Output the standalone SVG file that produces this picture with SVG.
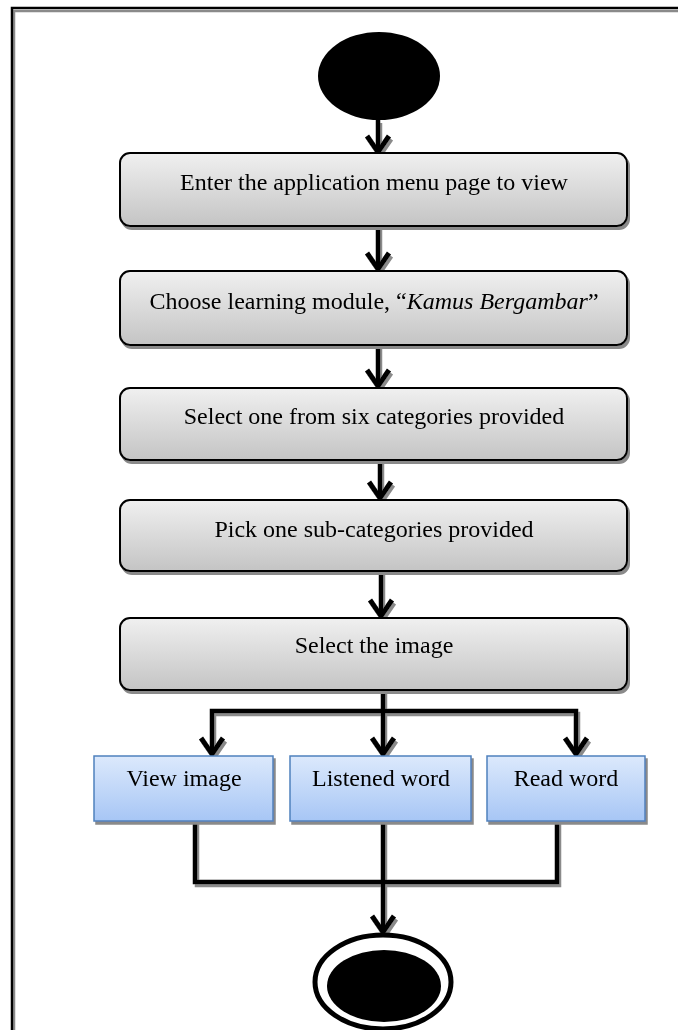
<svg xmlns="http://www.w3.org/2000/svg" width="678" height="1030" viewBox="0 0 678 1030">
<style>
.box{fill:url(#gGray);stroke:#000;stroke-width:2}
.bbox{fill:url(#gBlue);stroke:#4f81bd;stroke-width:1.5}
.t{font-family:"Liberation Serif","Times New Roman",serif;font-size:24px;fill:#000;text-anchor:middle}
.c{fill:none;stroke:#000;stroke-width:4.5}
</style>
<defs>
<linearGradient id="gGray" x1="0" y1="0" x2="0" y2="1">
<stop offset="0" stop-color="#f0f0f0"/><stop offset="1" stop-color="#c4c4c4"/>
</linearGradient>
<linearGradient id="gBlue" x1="0" y1="0" x2="0" y2="1">
<stop offset="0" stop-color="#dce9fc"/><stop offset="1" stop-color="#a7c6f5"/>
</linearGradient>
<filter id="sh" x="-10%" y="-10%" width="130%" height="140%">
<feOffset in="SourceAlpha" dx="2" dy="3" result="o"/>
<feFlood flood-color="#8a8a8a"/>
<feComposite in2="o" operator="in" result="s"/>
<feMerge><feMergeNode in="s"/><feMergeNode in="SourceGraphic"/></feMerge>
</filter>
<marker id="ah" markerUnits="userSpaceOnUse" markerWidth="24" markerHeight="28" refX="19" refY="14" orient="auto-start-reverse" viewBox="0 0 24 28">
<path d="M3,3 L19,14 L3,25" fill="none" stroke="#000" stroke-width="5"/>
</marker>
</defs>
<rect width="678" height="1030" fill="#fff"/>
<path d="M12,1030 V8 H678" fill="none" stroke="#000" stroke-width="2.5" filter="url(#sh)"/>

<g id="connectors" filter="url(#sh)">
<path class="c" d="M378,120 V152" marker-end="url(#ah)"/>
<path class="c" d="M378,226 V269" marker-end="url(#ah)"/>
<path class="c" d="M378,345 V386" marker-end="url(#ah)"/>
<path class="c" d="M380,460 V498" marker-end="url(#ah)"/>
<path class="c" d="M381,571 V616" marker-end="url(#ah)"/>
<path class="c" d="M383,690 V711"/>
<path class="c" d="M212,754 V711 H576 V754" marker-start="url(#ah)" marker-end="url(#ah)"/>
<path class="c" d="M383,711 V754" marker-end="url(#ah)"/>
<path class="c" d="M195,821 V882 H557 V821"/>
<path class="c" d="M383,821 V932" marker-end="url(#ah)"/>
</g>

<g id="start">
<ellipse cx="379" cy="76" rx="61" ry="44" fill="#000"/>
</g>

<g id="n1" filter="url(#sh)">
<rect class="box" x="120" y="153" width="507" height="73" rx="10"/>
<text class="t" x="374" y="190">Enter the application menu page to view</text>
</g>
<g id="n2" filter="url(#sh)">
<rect class="box" x="120" y="271" width="507" height="74" rx="10"/>
<text class="t" x="374" y="309">Choose learning module, “<tspan font-style="italic">Kamus Bergambar</tspan>”</text>
</g>
<g id="n3" filter="url(#sh)">
<rect class="box" x="120" y="388" width="507" height="72" rx="10"/>
<text class="t" x="374" y="424">Select one from six categories provided</text>
</g>
<g id="n4" filter="url(#sh)">
<rect class="box" x="120" y="500" width="507" height="71" rx="10"/>
<text class="t" x="374" y="537">Pick one sub-categories provided</text>
</g>
<g id="n5" filter="url(#sh)">
<rect class="box" x="120" y="618" width="507" height="72" rx="10"/>
<text class="t" x="374" y="653">Select the image</text>
</g>

<g id="b1" filter="url(#sh)">
<rect class="bbox" x="94" y="756" width="179" height="65"/>
<text class="t" x="184" y="786">View image</text>
</g>
<g id="b2" filter="url(#sh)">
<rect class="bbox" x="290" y="756" width="181" height="65"/>
<text class="t" x="381" y="786">Listened word</text>
</g>
<g id="b3" filter="url(#sh)">
<rect class="bbox" x="487" y="756" width="158" height="65"/>
<text class="t" x="566" y="786">Read word</text>
</g>

<g id="end">
<ellipse cx="383" cy="982" rx="68" ry="47" fill="#fff" stroke="#000" stroke-width="5"/>
<ellipse cx="384" cy="986" rx="57" ry="36" fill="#000"/>
</g>
</svg>
